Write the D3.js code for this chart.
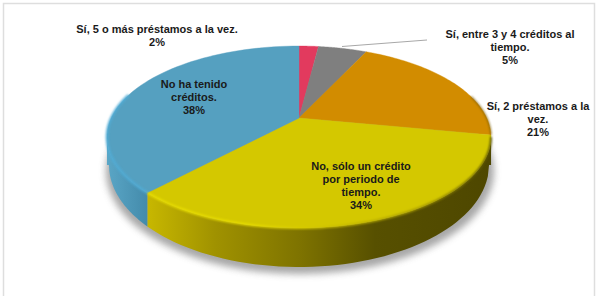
<!DOCTYPE html>
<html><head><meta charset="utf-8">
<script src="https://cdn.jsdelivr.net/npm/d3@7"></script>
<style>html,body{margin:0;padding:0;background:#fff}svg{display:block}
text{font-family:"Liberation Sans",Arial,sans-serif;font-weight:700;font-size:11px;fill:#1a1a1a;text-anchor:middle}</style>
</head><body><svg id="c" width="597" height="302"></svg>
<script>
const categories = ["Sí, 5 o más préstamos a la vez.","Sí, entre 3 y 4 créditos al tiempo.","Sí, 2 préstamos a la vez.","No, sólo un crédito por periodo de tiempo.","No ha tenido créditos."];
const values = [2,5,21,34,38];
const labelLines = [["Sí, 5 o más préstamos a la vez."],["Sí, entre 3 y 4 créditos al","tiempo."],["Sí, 2 préstamos a la","vez."],["No, sólo un crédito","por periodo de","tiempo."],["No ha tenido","créditos."]];
const labelCentres = [[157,29],[510,34],[538,106],[361,166],[194,84]];
const topColors = ["#e23a5e","#7f7f7f","#d28c00","#d4c800","#55a0c0"];
const sideStops = [null,null,null,
  [[150,"#c6b600"],[215,"#a09200"],[300,"#7e7300"],[375,"#575000"],[490,"#4e4700"]],
  [[107,"#5aa6c6"],[150,"#4289a9"]]];
const bevelStops = [null,null,null,
  [[148,"#ece200"],[250,"#eadf00"],[320,"#d0c400"],[420,"#a49800"],[491,"#5a5200"]],
  [[107,"#50acd6"],[150,"#50acd6"]]];

const svg = d3.select("#c"), defs = svg.append("defs");
const cx = 299, topRim = {y0:118, Ry:87, R:187.8, k:0.209};
const low = {cy:165, a:190, b:102};
const project = (th,p=topRim) => { const u=Math.sin(th), v=-Math.cos(th), s=1/(1-p.k*v);
  return [cx+p.R*u*s, p.y0+p.Ry*v*s]; };
const lowY = x => low.cy + low.b*Math.sqrt(Math.max(0,1-((x-cx)/low.a)**2));
const arcs = d3.pie().sort(null).value(d=>d)(values);
const samples = (a,b) => d3.range(0,61).map(i=>a+(b-a)*i/60);

const fBlur = defs.append("filter").attr("id","sh").attr("x","-10%").attr("y","-10%").attr("width","120%").attr("height","125%");
fBlur.append("feGaussianBlur").attr("stdDeviation",3.5);
const fSoft = defs.append("filter").attr("id","soft").attr("filterUnits","userSpaceOnUse").attr("x",0).attr("y",0).attr("width",597).attr("height",302);
fSoft.append("feGaussianBlur").attr("stdDeviation",0.9);
const grad = (id,stops) => { const g=defs.append("linearGradient").attr("id",id).attr("gradientUnits","userSpaceOnUse").attr("x1",100).attr("x2",495).attr("y1",0).attr("y2",0);
  stops.forEach(s=>g.append("stop").attr("offset",(s[0]-100)/395).attr("stop-color",s[1])); };

// frame
svg.append("path").attr("d","M3.5,296V3.5H594.5V296").attr("fill","none").attr("stroke","#dedede").attr("stroke-width",1.5);

// shadow
svg.append("ellipse").attr("cx",cx+1).attr("cy",low.cy+6).attr("rx",low.a+4).attr("ry",low.b+1)
  .attr("fill","#8a8a8a").attr("opacity",0.75).attr("filter","url(#sh)");

// sides
const thL = Math.PI*102/180, thR = Math.PI*258/180;
const side = d3.area().x(d=>d[0]).y0(d=>d[1]).y1(d=>lowY(d[0]));
arcs.forEach((a,i)=>{
  if(!sideStops[i]) return;
  const s=Math.max(a.startAngle,thL), e=Math.min(a.endAngle,thR);
  grad("side"+i,sideStops[i]); grad("bev"+i,bevelStops[i]);
  svg.append("path").attr("d",side(samples(s,e).map(t=>project(t)))).attr("fill",`url(#side${i})`);
});

// top faces
const face = d3.line();
arcs.forEach((a,i)=>{
  svg.append("path").attr("d",face([[cx,topRim.y0],...samples(a.startAngle,a.endAngle).map(t=>project(t))])+"Z")
    .attr("fill",topColors[i]).attr("stroke",topColors[i]).attr("stroke-width",0.4);
});

// bevels
const bev = (s,e,stroke,w) => svg.append("path").attr("d",d3.line()(samples(s,e).map(t=>project(t))))
  .attr("fill","none").attr("stroke",stroke).attr("stroke-width",w).attr("filter","url(#soft)");
bev(arcs[3].startAngle+0.02,arcs[3].endAngle,"url(#bev3)",2);
bev(arcs[4].startAngle,arcs[4].startAngle+1.1,"url(#bev4)",2.4);
bev(arcs[2].endAngle-0.45,arcs[2].endAngle,"#7a5c10",1.2);

// leader
svg.append("path").attr("d",d3.line()([[342,46.5],[427,40]])).attr("fill","none").attr("stroke","#a8a8a8").attr("stroke-width",1);

// labels
arcs.forEach((a,i)=>{
  const t=svg.append("text").attr("x",labelCentres[i][0]);
  [...labelLines[i],Math.round(a.value)+"%"].forEach((l,j)=>
    t.append("tspan").attr("x",labelCentres[i][0]).attr("y",labelCentres[i][1]+4+j*13).text(l));
});
</script></body></html>
